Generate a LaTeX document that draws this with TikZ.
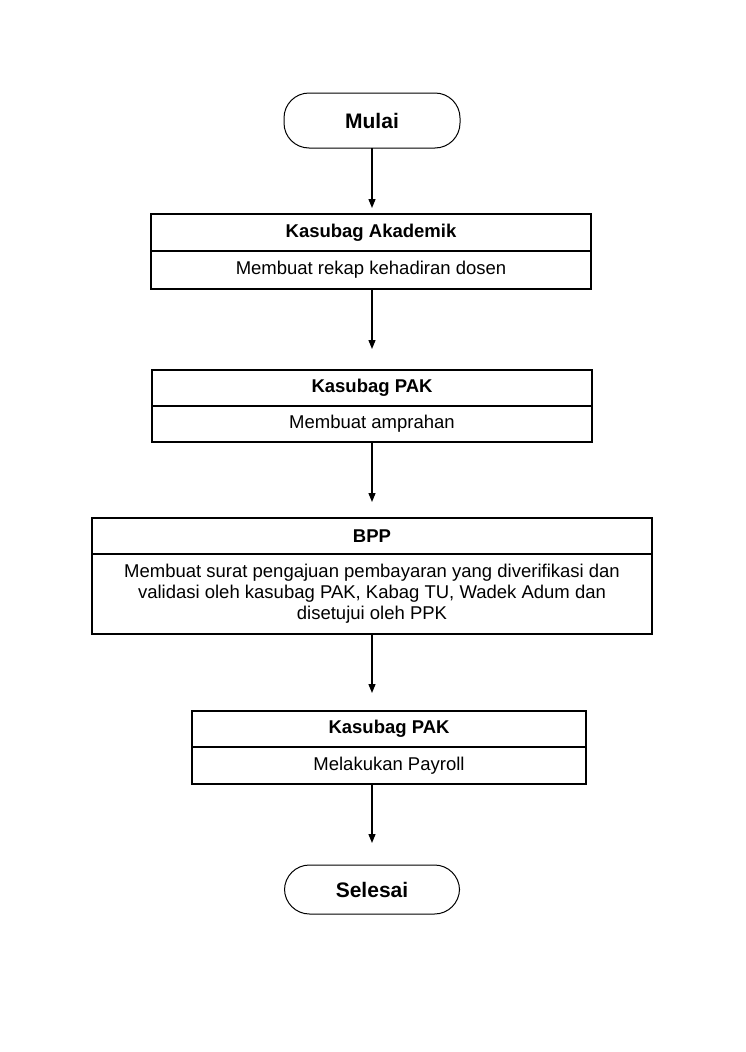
\documentclass[tikz,border=0pt]{standalone}
\usepackage{fontspec}
\setmainfont{Liberation Sans}
\usetikzlibrary{arrows.meta}
\begin{document}
\begin{tikzpicture}[x=1pt,y=1pt,
  term/.style={draw,line width=1pt,rounded corners=25pt,font=\fontsize{21}{24}\selectfont\bfseries,inner sep=0pt,outer sep=0pt},
  head/.style={draw,line width=2pt,inner sep=0pt,outer sep=0pt,font=\fontsize{18.5}{21}\selectfont\bfseries},
  body/.style={draw,line width=2pt,inner sep=0pt,outer sep=0pt,font=\fontsize{18.5}{21}\selectfont,align=center},
  arr/.style={line width=1.3pt,-{Triangle[length=9pt,width=7pt]}}]
\useasboundingbox (0,0) rectangle (745,-1052);
\node[term,minimum width=176,minimum height=55] (start) at (372,-120.5) {Mulai};
% box 1
\node[head,minimum width=440,minimum height=37] (hA) at (371,-232.5) {Kasubag Akademik};
\node[body,minimum width=440,minimum height=38,anchor=north] (bA) at (hA.south) {Membuat rekap kehadiran dosen};
% box 2
\node[head,minimum width=440,minimum height=36] (hB) at (372,-388) {Kasubag PAK};
\node[body,minimum width=440,minimum height=36,anchor=north] (bB) at (hB.south) {Membuat amprahan};
% box 3
\node[head,minimum width=560,minimum height=36] (hC) at (372,-536) {BPP};
\node[body,minimum width=560,minimum height=80,anchor=north] (bC) at (hC.south) {Membuat surat pengajuan pembayaran yang diverifikasi dan\\validasi oleh kasubag PAK, Kabag TU, Wadek Adum dan\\disetujui oleh PPK};
% box 4
\node[head,minimum width=394,minimum height=36] (hD) at (389,-729) {Kasubag PAK};
\node[body,minimum width=394,minimum height=37,anchor=north] (bD) at (hD.south) {Melakukan Payroll};
\node[term,minimum width=175,minimum height=49] (stop) at (372,-889.5) {Selesai};
% arrows
\draw[arr,shorten >=6pt] (start) -- (start |- hA.north);
\draw[arr,shorten >=21pt] (bA.south -| start) -- (start |- hB.north);
\draw[arr,shorten >=16pt] (bB.south -| start) -- (start |- hC.north);
\draw[arr,shorten >=18pt] (bC.south -| start) -- (start |- hD.north);
\draw[arr,shorten >=22pt] (bD.south -| stop) -- (stop);
\end{tikzpicture}
\end{document}
